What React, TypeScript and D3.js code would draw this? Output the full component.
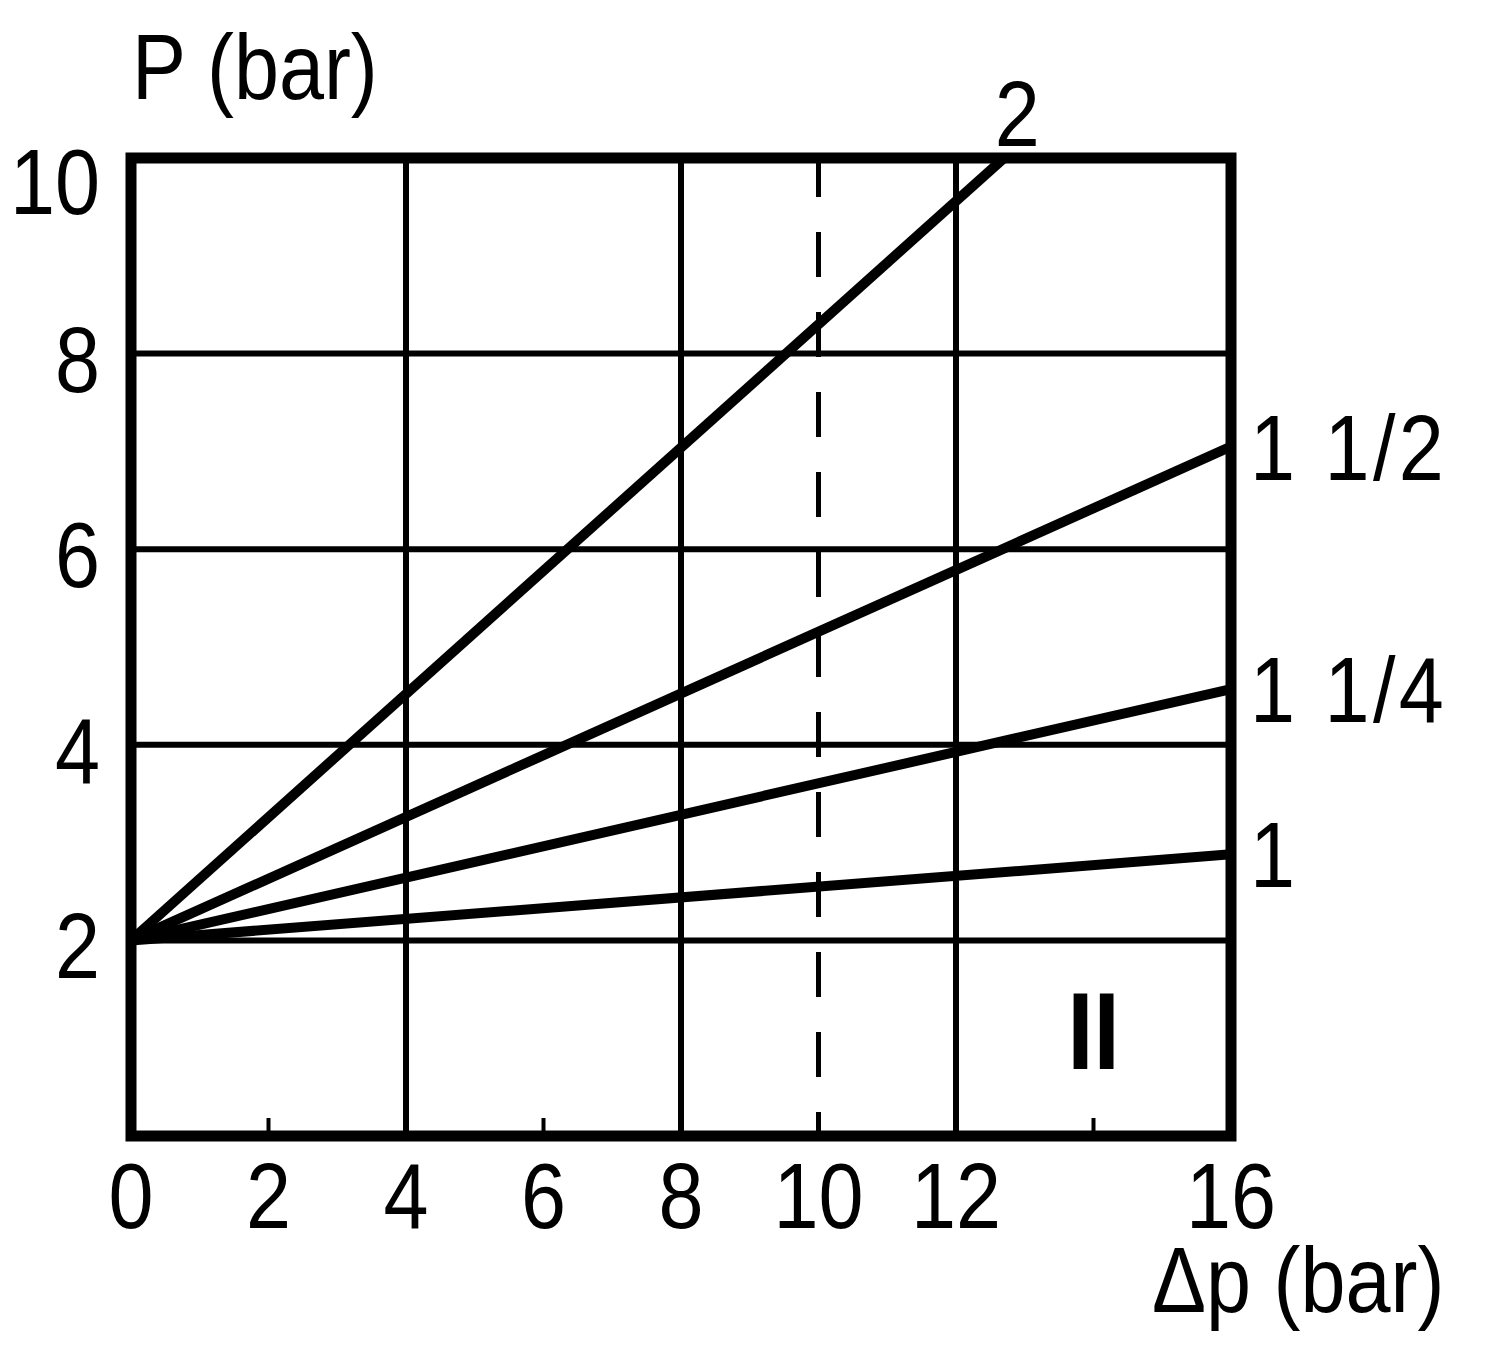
import React from "react";
import * as d3 from "d3";

const WIDTH = 1500;
const HEIGHT = 1346;

// Axis ticks
const xTickLabels = [0, 2, 4, 6, 8, 10, 12, 16];
const xGrid = [4, 8, 12];
const xMinorTicks = [2, 6, 10, 14];
const yTickLabels = [2, 4, 6, 8, 10];
const yGrid = [2, 4, 6, 8];
const dashedX = 10;

// Series: name + end point (all start at Δp=0, P=2)
const seriesNames = ["1", "1 1/4", "1 1/2", "2"];
const seriesStart = [0, 2];
const seriesEndX = [16, 16, 16, 12.7];
const seriesEndY = [2.88, 4.57, 7.05, 10];

const yAxisTitle = "P (bar)";
const xAxisTitle = "Δp (bar)";
const regionLabel = "II";

const FONT = "'Liberation Sans', Arial, Helvetica, sans-serif";
const FS = 93;
const SX = 0.87;

export default function App() {
  const x = d3.scaleLinear().domain([0, 16]).range([131, 1231]);
  const y = d3.scaleLinear().domain([0, 10]).range([1136, 158]);
  const line = d3
    .line<number[]>()
    .x((d) => x(d[0]))
    .y((d) => y(d[1]));

  const T = (
    key: string,
    tx: number,
    ty: number,
    text: string,
    anchor: "start" | "middle" | "end",
    extra: any = {}
  ) => (
    <text
      key={key}
      transform={`translate(${tx},${ty}) scale(${SX},1)`}
      textAnchor={anchor}
      fontFamily={FONT}
      fontSize={FS}
      fill="#000"
      {...extra}
    >
      {text}
    </text>
  );

  const x0 = x(0), x1 = x(16), y0 = y(0), y1 = y(10);

  return (
    <svg
      width={WIDTH}
      height={HEIGHT}
      style={{ position: "absolute", left: 0, top: 0, background: "#fff" }}
    >
      <rect x={0} y={0} width={WIDTH} height={HEIGHT} fill="#fff" />
      {/* grid */}
      {xGrid.map((v) => (
        <line key={"xg" + v} x1={x(v)} x2={x(v)} y1={y1} y2={y0} stroke="#000" strokeWidth={6} />
      ))}
      {yGrid.map((v) => (
        <line key={"yg" + v} x1={x0} x2={x1} y1={y(v)} y2={y(v)} stroke="#000" strokeWidth={6} />
      ))}
      {/* minor ticks on bottom */}
      {xMinorTicks.map((v) => (
        <line key={"mt" + v} x1={x(v)} x2={x(v)} y1={y0 - 18} y2={y0} stroke="#000" strokeWidth={4} />
      ))}
      {/* dashed line */}
      <line
        x1={x(dashedX)}
        x2={x(dashedX)}
        y1={y1}
        y2={y0}
        stroke="#000"
        strokeWidth={5}
        strokeDasharray="45 35"
        strokeDashoffset={6}
      />
      {/* series */}
      {seriesNames.map((n, i) => (
        <path
          key={"s" + n}
          d={line([seriesStart, [seriesEndX[i], seriesEndY[i]]]) || ""}
          fill="none"
          stroke="#000"
          strokeWidth={10}
        />
      ))}
      {/* frame */}
      <rect x={x0} y={y1} width={x1 - x0} height={y0 - y1} fill="none" stroke="#000" strokeWidth={11} />
      {/* y tick labels */}
      {yTickLabels.map((v) => T("yl" + v, 100, Math.max(y(v) + 4, 180) + 34, String(v), "end"))}
      {/* x tick labels */}
      {xTickLabels.map((v) => T("xl" + v, x(v), 1228, String(v), "middle"))}
      {/* axis titles */}
      {T("yt", 132, 99, yAxisTitle, "start")}
      {T("xt", 1152, 1312, xAxisTitle, "start")}
      {/* series labels */}
      {seriesNames.map((n, i) =>
        seriesEndY[i] >= 10
          ? T("sl" + n, x(seriesEndX[i]) + 13, y(seriesEndY[i]) - 12, n, "middle")
          : T("sl" + n, x(seriesEndX[i]) + 19, y(seriesEndY[i]) + 33, n, "start", { letterSpacing: 4 })
      )}
      {/* region label */}
      {T("rl", x(14), y(0.68), regionLabel, "middle", { fontWeight: "bold", fontSize: 109 })}
    </svg>
  );
}
